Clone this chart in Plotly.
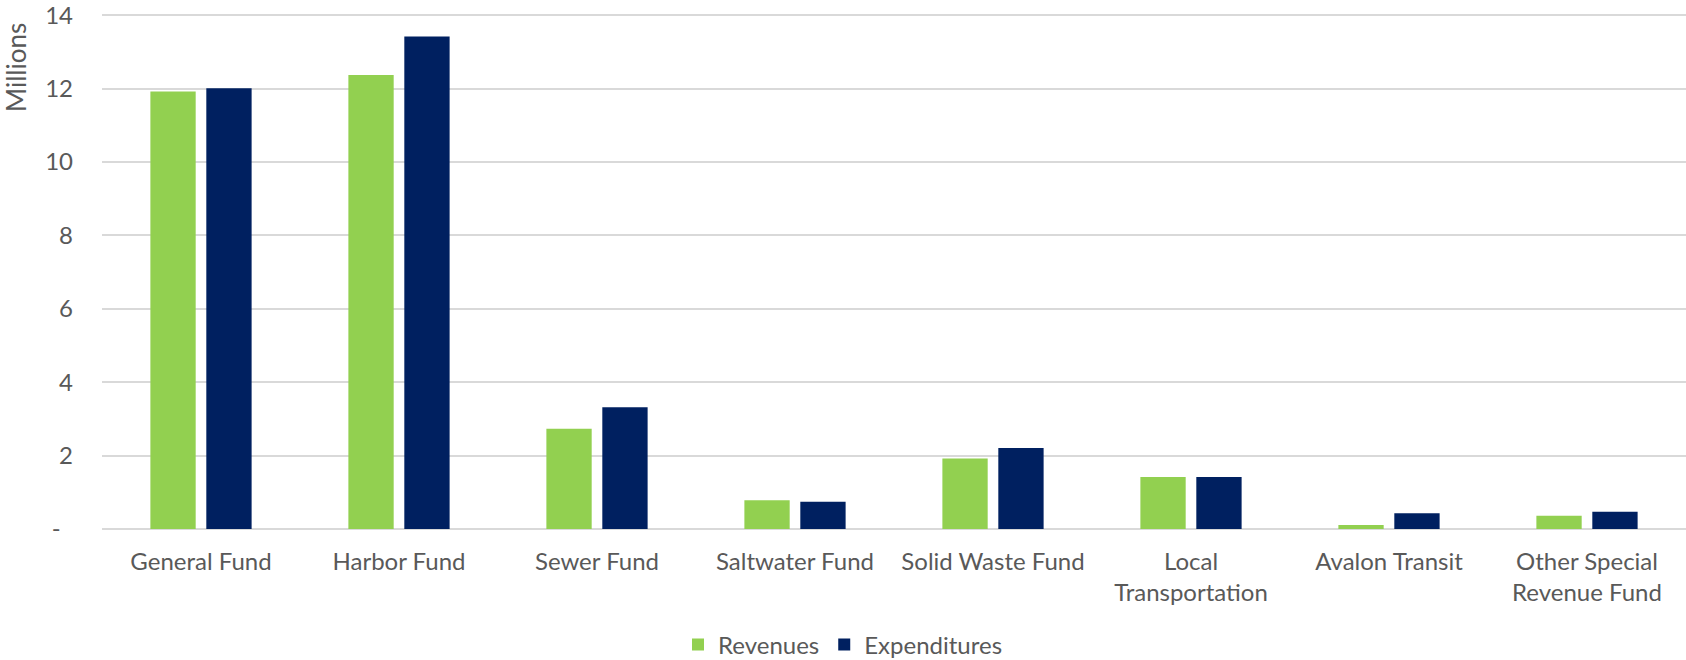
import plotly.graph_objects as go

# Fund categories and amounts (millions of dollars)
categories = [
    "General Fund",
    "Harbor Fund",
    "Sewer Fund",
    "Saltwater Fund",
    "Solid Waste Fund",
    "Local<br>Transportation",
    "Avalon Transit",
    "Other Special<br>Revenue Fund",
]
revenues = [11.92, 12.37, 2.73, 0.78, 1.92, 1.42, 0.11, 0.36]
expenditures = [12.01, 13.42, 3.32, 0.74, 2.21, 1.42, 0.43, 0.47]

y_tickvals = [0, 2, 4, 6, 8, 10, 12, 14]
y_ticktext = ["-\u00a0\u00a0", "2", "4", "6", "8", "10", "12", "14"]

FONT = "Lato"
FONT_SIZE = 24
TEXT_COLOR = "#595959"
GRID_COLOR = "#d9d9d9"

fig = go.Figure()
fig.add_trace(go.Bar(
    name="Revenues", x=categories, y=revenues,
    marker=dict(color="#92d050", line=dict(width=0)),
))
fig.add_trace(go.Bar(
    name="Expenditures", x=categories, y=expenditures,
    marker=dict(color="#002060", line=dict(width=0)),
))

fig.update_layout(
    width=1686,
    height=660,
    margin=dict(l=102, r=0, t=11, b=131),
    paper_bgcolor="white",
    plot_bgcolor="white",
    barmode="group",
    bargap=0.435,
    bargroupgap=0.19,
    font=dict(family=FONT, size=FONT_SIZE, color=TEXT_COLOR),
    showlegend=True,
    legend=dict(
        orientation="h",
        xref="container", yref="container",
        x=0.5, xanchor="center",
        y=0.023, yanchor="middle",
        font=dict(family=FONT, size=FONT_SIZE, color=TEXT_COLOR),
    ),
    xaxis=dict(
        showgrid=False,
        showline=False,
        ticks="",
        ticklabelstandoff=16,
        tickfont=dict(family=FONT, size=FONT_SIZE, color=TEXT_COLOR),
        fixedrange=True,
    ),
    yaxis=dict(
        range=[0, 14.03],
        tickvals=y_tickvals,
        ticktext=y_ticktext,
        showgrid=True,
        gridcolor=GRID_COLOR,
        gridwidth=1.5,
        zeroline=True,
        zerolinecolor=GRID_COLOR,
        zerolinewidth=2,
        showline=False,
        ticks="",
        ticklabelstandoff=28,
        ticklabeloverflow="allow",
        tickfont=dict(family=FONT, size=FONT_SIZE, color=TEXT_COLOR),
        fixedrange=True,
    ),
    annotations=[
        dict(
            text="Millions",
            xref="paper", yref="paper",
            x=-0.0543, y=0.897,
            xanchor="center", yanchor="middle",
            textangle=-90,
            showarrow=False,
            font=dict(family=FONT, size=26, color=TEXT_COLOR),
        )
    ],
)

fig.write_html("out.html")
